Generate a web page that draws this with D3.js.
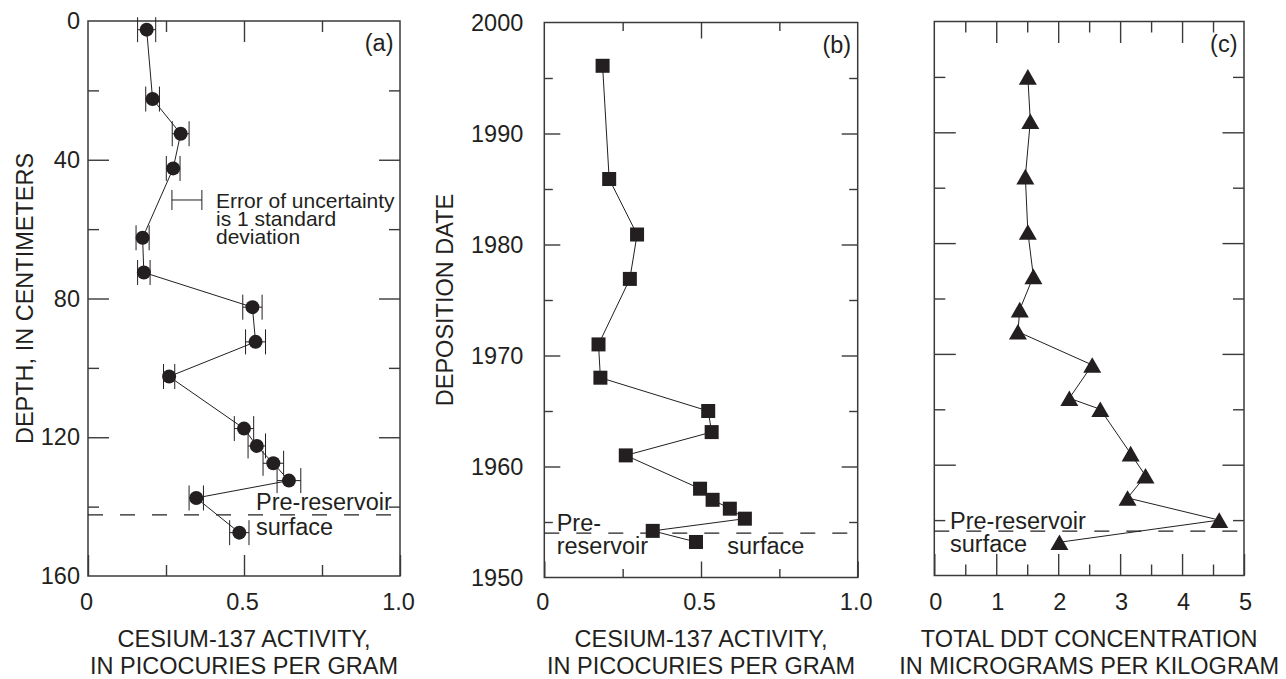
<!DOCTYPE html>
<html>
<head>
<meta charset="utf-8">
<script src="https://cdn.jsdelivr.net/npm/d3@7"></script>
<style>
  html, body { margin: 0; padding: 0; background: #fff; }
  svg { display: block; }
  text { font-family: "Liberation Sans", Arial, Helvetica, sans-serif; fill: #231f20; }
</style>
</head>
<body>
<svg id="chart" width="1286" height="679"></svg>
<script>
// ---------------- DATA ----------------
// Panel (a): depth (cm) vs cesium-137 activity (pCi/g) with 1-sigma error
const depthA   = [2.5, 22.5, 32.5, 42.5, 62.5, 72.5, 82.5, 92.5, 102.5, 117.5, 122.5, 127.5, 132.5, 137.5, 147.5];
const cesiumA  = [0.188, 0.207, 0.297, 0.273, 0.175, 0.179, 0.527, 0.537, 0.260, 0.500, 0.541, 0.594, 0.644, 0.347, 0.485];
const errorA   = [0.029, 0.022, 0.027, 0.022, 0.021, 0.020, 0.031, 0.032, 0.018, 0.031, 0.028, 0.033, 0.038, 0.023, 0.031];
const preReservoirDepth = 142.4;
const legendErr = {value: 0.317, half: 0.048, depth: 51.6};

// Panel (b): deposition date vs cesium-137 activity
const yearB    = [1996.1, 1985.9, 1980.9, 1976.9, 1971.0, 1968.0, 1965.0, 1963.1, 1961.0, 1958.0, 1957.0, 1956.2, 1955.3, 1954.2, 1953.2];
const cesiumB  = [0.186, 0.207, 0.296, 0.273, 0.173, 0.179, 0.523, 0.534, 0.260, 0.497, 0.537, 0.592, 0.640, 0.346, 0.484];

// Panel (c): deposition date vs total DDT (ug/kg)
const yearC    = [1995, 1991, 1986, 1981, 1977, 1974, 1972, 1969, 1966, 1965, 1961, 1959, 1957, 1955, 1953];
const ddtC     = [1.51, 1.55, 1.47, 1.51, 1.60, 1.38, 1.35, 2.55, 2.18, 2.68, 3.17, 3.41, 3.12, 4.60, 2.02];
const preReservoirYear = 1954;

// Ticks
const cesiumMajor = [0, 0.5, 1.0];
const cesiumLabels = ["0", "0.5", "1.0"];
const cesiumMinor = [0.25, 0.75];
const depthMajor = [0, 40, 80, 120, 160];
const depthMinor = [20, 60, 100, 140];
const yearMajor = [1950, 1960, 1970, 1980, 1990, 2000];
const yearMinor = [1955, 1965, 1975, 1985, 1995];
const ddtMajor = [0, 1, 2, 3, 4, 5];
const ddtMinor = [0.5, 1.5, 2.5, 3.5, 4.5];

// ---------------- DRAWING ----------------
const svg = d3.select("#chart");
const INK = "#231f20";
const FRAME = "#3a3a3a";
const FS = 23.5;

function multiLine(g, x, y, lines, lh, fs) {
  const t = g.append("text").attr("x", x).attr("y", y).style("font-size", fs + "px");
  lines.forEach((s, i) => {
    t.append("tspan").attr("x", x).attr("dy", i === 0 ? 0 : lh).text(s);
  });
  return t;
}

function panel(cfg) {
  const g = svg.append("g");
  const x = d3.scaleLinear().domain(cfg.xDomain).range([cfg.left, cfg.right]);
  const y = d3.scaleLinear().domain(cfg.yDomain).range([cfg.top, cfg.bottom]);

  function styleAxis(sel) {
    sel.select(".domain").remove();
    sel.selectAll(".tick line").attr("stroke", FRAME).attr("stroke-width", 1.4);
    sel.selectAll(".tick text").style("font-size", FS + "px")
       .style("font-family", '"Liberation Sans", Arial, sans-serif').attr("fill", INK);
  }
  // bottom
  g.append("g").attr("transform", `translate(0,${cfg.bottom})`)
    .call(d3.axisBottom(x).tickValues(cfg.xMajor).tickSize(-cfg.majorLen)
      .tickFormat((d, i) => cfg.xLabels[i]).tickPadding(0))
    .call(styleAxis)
    .call(s => s.selectAll(".tick text").attr("y", 610 - cfg.bottom).attr("dy", 0).attr("dx", cfg.xLabelDx));
  g.append("g").attr("transform", `translate(0,${cfg.bottom})`)
    .call(d3.axisBottom(x).tickValues(cfg.xMinor).tickSize(-cfg.minorLen).tickFormat(""))
    .call(styleAxis);
  // top
  g.append("g").attr("transform", `translate(0,${cfg.top})`)
    .call(d3.axisTop(x).tickValues(cfg.xMajor.slice(1, -1)).tickSize(-cfg.majorLen).tickFormat(""))
    .call(styleAxis);
  g.append("g").attr("transform", `translate(0,${cfg.top})`)
    .call(d3.axisTop(x).tickValues(cfg.xMinor).tickSize(-cfg.minorLen).tickFormat(""))
    .call(styleAxis);
  // left
  const la = d3.axisLeft(y).tickValues(cfg.yMajor).tickSize(-cfg.majorLen).tickPadding(cfg.yPad);
  if (cfg.yLabels) la.tickFormat(d => String(d)); else la.tickFormat("");
  g.append("g").attr("transform", `translate(${cfg.left},0)`).call(la).call(styleAxis)
    .call(s => s.selectAll(".tick").filter(d => d === cfg.yDomain[0] || d === cfg.yDomain[1]).select("line").remove());
  g.append("g").attr("transform", `translate(${cfg.left},0)`)
    .call(d3.axisLeft(y).tickValues(cfg.yMinor).tickSize(-cfg.minorLen).tickFormat(""))
    .call(styleAxis);
  // right
  g.append("g").attr("transform", `translate(${cfg.right},0)`)
    .call(d3.axisRight(y).tickValues(cfg.yMajor.filter(d => d !== cfg.yDomain[0] && d !== cfg.yDomain[1]))
      .tickSize(-cfg.majorLen).tickFormat(""))
    .call(styleAxis);
  g.append("g").attr("transform", `translate(${cfg.right},0)`)
    .call(d3.axisRight(y).tickValues(cfg.yMinor).tickSize(-cfg.minorLen).tickFormat(""))
    .call(styleAxis);

  // frame
  g.append("rect").attr("x", cfg.left).attr("y", cfg.top)
    .attr("width", cfg.right - cfg.left).attr("height", cfg.bottom - cfg.top)
    .attr("fill", "none").attr("stroke", FRAME).attr("stroke-width", 1.5);

  // dashed pre-reservoir line
  g.append("line").attr("x1", cfg.left).attr("x2", cfg.right)
    .attr("y1", y(cfg.preLevel)).attr("y2", y(cfg.preLevel))
    .attr("stroke", INK).attr("stroke-width", 1.2).attr("stroke-dasharray", "15,17");

  // x-axis title (two lines)
  const cx = (cfg.left + cfg.right) / 2;
  multiLine(g, cx, 647, cfg.xTitle, 27, FS).attr("text-anchor", "middle");
  if (cfg.yTitle) {
    g.append("text").attr("transform", `translate(${cfg.yTitleX},${(cfg.top + cfg.bottom) / 2}) rotate(-90)`)
      .attr("text-anchor", "middle").style("font-size", FS + "px").text(cfg.yTitle);
  }
  // panel letter
  g.append("text").attr("x", cfg.right - 6.5).attr("y", cfg.top + 30).attr("text-anchor", "end")
    .style("font-size", FS + "px").text(cfg.letter);

  return {g, x, y};
}

// Panel (a)
const A = panel({
  left: 88, right: 400, top: 21, bottom: 576,
  xDomain: [0, 1], yDomain: [0, 160],
  xMajor: cesiumMajor, xLabels: cesiumLabels, xMinor: cesiumMinor,
  yMajor: depthMajor, yMinor: depthMinor, yLabels: true, yPad: 8,
  majorLen: 21, minorLen: 11, xLabelDx: -2,
  preLevel: preReservoirDepth,
  xTitle: ["CESIUM-137 ACTIVITY,", "IN PICOCURIES PER GRAM"],
  yTitle: "DEPTH, IN CENTIMETERS", yTitleX: 33,
  letter: "(a)"
});
// Panel (b)
const B = panel({
  left: 544.3, right: 857.7, top: 22.5, bottom: 577.5,
  xDomain: [0, 1], yDomain: [2000, 1950],
  xMajor: cesiumMajor, xLabels: cesiumLabels, xMinor: cesiumMinor,
  yMajor: yearMajor, yMinor: yearMinor, yLabels: true, yPad: 21,
  majorLen: 16, minorLen: 8.5, xLabelDx: -2,
  preLevel: preReservoirYear,
  xTitle: ["CESIUM-137 ACTIVITY,", "IN PICOCURIES PER GRAM"],
  yTitle: "DEPOSITION DATE", yTitleX: 453,
  letter: "(b)"
});
// Panel (c)
const C = panel({
  left: 934.3, right: 1244, top: 21.5, bottom: 575.5,
  xDomain: [0, 5], yDomain: [2000, 1950],
  xMajor: ddtMajor, xLabels: ddtMajor.map(String), xMinor: ddtMinor,
  yMajor: yearMajor, yMinor: yearMinor, yLabels: false, yPad: 8,
  majorLen: 21.5, minorLen: 11, xLabelDx: 1,
  preLevel: preReservoirYear,
  xTitle: ["TOTAL DDT CONCENTRATION", "IN MICROGRAMS PER KILOGRAM"],
  yTitle: null,
  letter: "(c)"
});

// ---- Panel (a) marks ----
const ptsA = depthA.map((d, i) => ({d, v: cesiumA[i], e: errorA[i]}));
A.g.append("path").datum(ptsA)
  .attr("d", d3.line().x(p => A.x(p.v)).y(p => A.y(p.d)))
  .attr("fill", "none").attr("stroke", INK).attr("stroke-width", 1);
const eb = A.g.append("g").attr("stroke", INK).attr("stroke-width", 1);
ptsA.forEach(p => {
  const yy = A.y(p.d), x0 = A.x(p.v - p.e), x1 = A.x(p.v + p.e);
  eb.append("line").attr("x1", x0).attr("x2", x1).attr("y1", yy).attr("y2", yy);
  eb.append("line").attr("x1", x0).attr("x2", x0).attr("y1", yy - 12.5).attr("y2", yy + 12.5);
  eb.append("line").attr("x1", x1).attr("x2", x1).attr("y1", yy - 12.5).attr("y2", yy + 12.5);
});
A.g.selectAll("circle.pt").data(ptsA).join("circle")
  .attr("cx", p => A.x(p.v)).attr("cy", p => A.y(p.d)).attr("r", 7).attr("fill", INK);

// legend error bar
{
  const yy = A.y(legendErr.depth);
  const x0 = A.x(legendErr.value - legendErr.half), x1 = A.x(legendErr.value + legendErr.half);
  const lg = A.g.append("g").attr("stroke", INK).attr("stroke-width", 1);
  lg.append("line").attr("x1", x0).attr("x2", x1).attr("y1", yy).attr("y2", yy);
  lg.append("line").attr("x1", x0).attr("x2", x0).attr("y1", yy - 10).attr("y2", yy + 10);
  lg.append("line").attr("x1", x1).attr("x2", x1).attr("y1", yy - 10).attr("y2", yy + 10);
  multiLine(A.g, 216, 208, ["Error of uncertainty", "is 1 standard", "deviation"], 18, 21);
}
multiLine(A.g, 256, 510, ["Pre-reservoir", "surface"], 25, FS);

// ---- Panel (b) marks ----
const ptsB = yearB.map((d, i) => ({d, v: cesiumB[i]}));
B.g.append("path").datum(ptsB)
  .attr("d", d3.line().x(p => B.x(p.v)).y(p => B.y(p.d)))
  .attr("fill", "none").attr("stroke", INK).attr("stroke-width", 1);
B.g.selectAll("rect.pt").data(ptsB).join("rect")
  .attr("x", p => B.x(p.v) - 7).attr("y", p => B.y(p.d) - 7)
  .attr("width", 14).attr("height", 14).attr("fill", INK);
multiLine(B.g, 556.7, 531, ["Pre-", "reservoir"], 23, FS);
B.g.append("text").attr("x", 727.3).attr("y", 554).style("font-size", FS + "px").text("surface");

// ---- Panel (c) marks ----
const ptsC = yearC.map((d, i) => ({d, v: ddtC[i]}));
C.g.append("path").datum(ptsC)
  .attr("d", d3.line().x(p => C.x(p.v)).y(p => C.y(p.d)))
  .attr("fill", "none").attr("stroke", INK).attr("stroke-width", 1);
const triW = 18, triH = 15.6;
C.g.selectAll("path.pt").data(ptsC).join("path")
  .attr("d", p => {
    const cx = C.x(p.v), cy = C.y(p.d);
    return `M${cx},${cy - triH / 2}L${cx + triW / 2},${cy + triH / 2}L${cx - triW / 2},${cy + triH / 2}Z`;
  })
  .attr("fill", INK);
multiLine(C.g, 950, 529, ["Pre-reservoir", "surface"], 23, FS);
</script>
</body>
</html>
